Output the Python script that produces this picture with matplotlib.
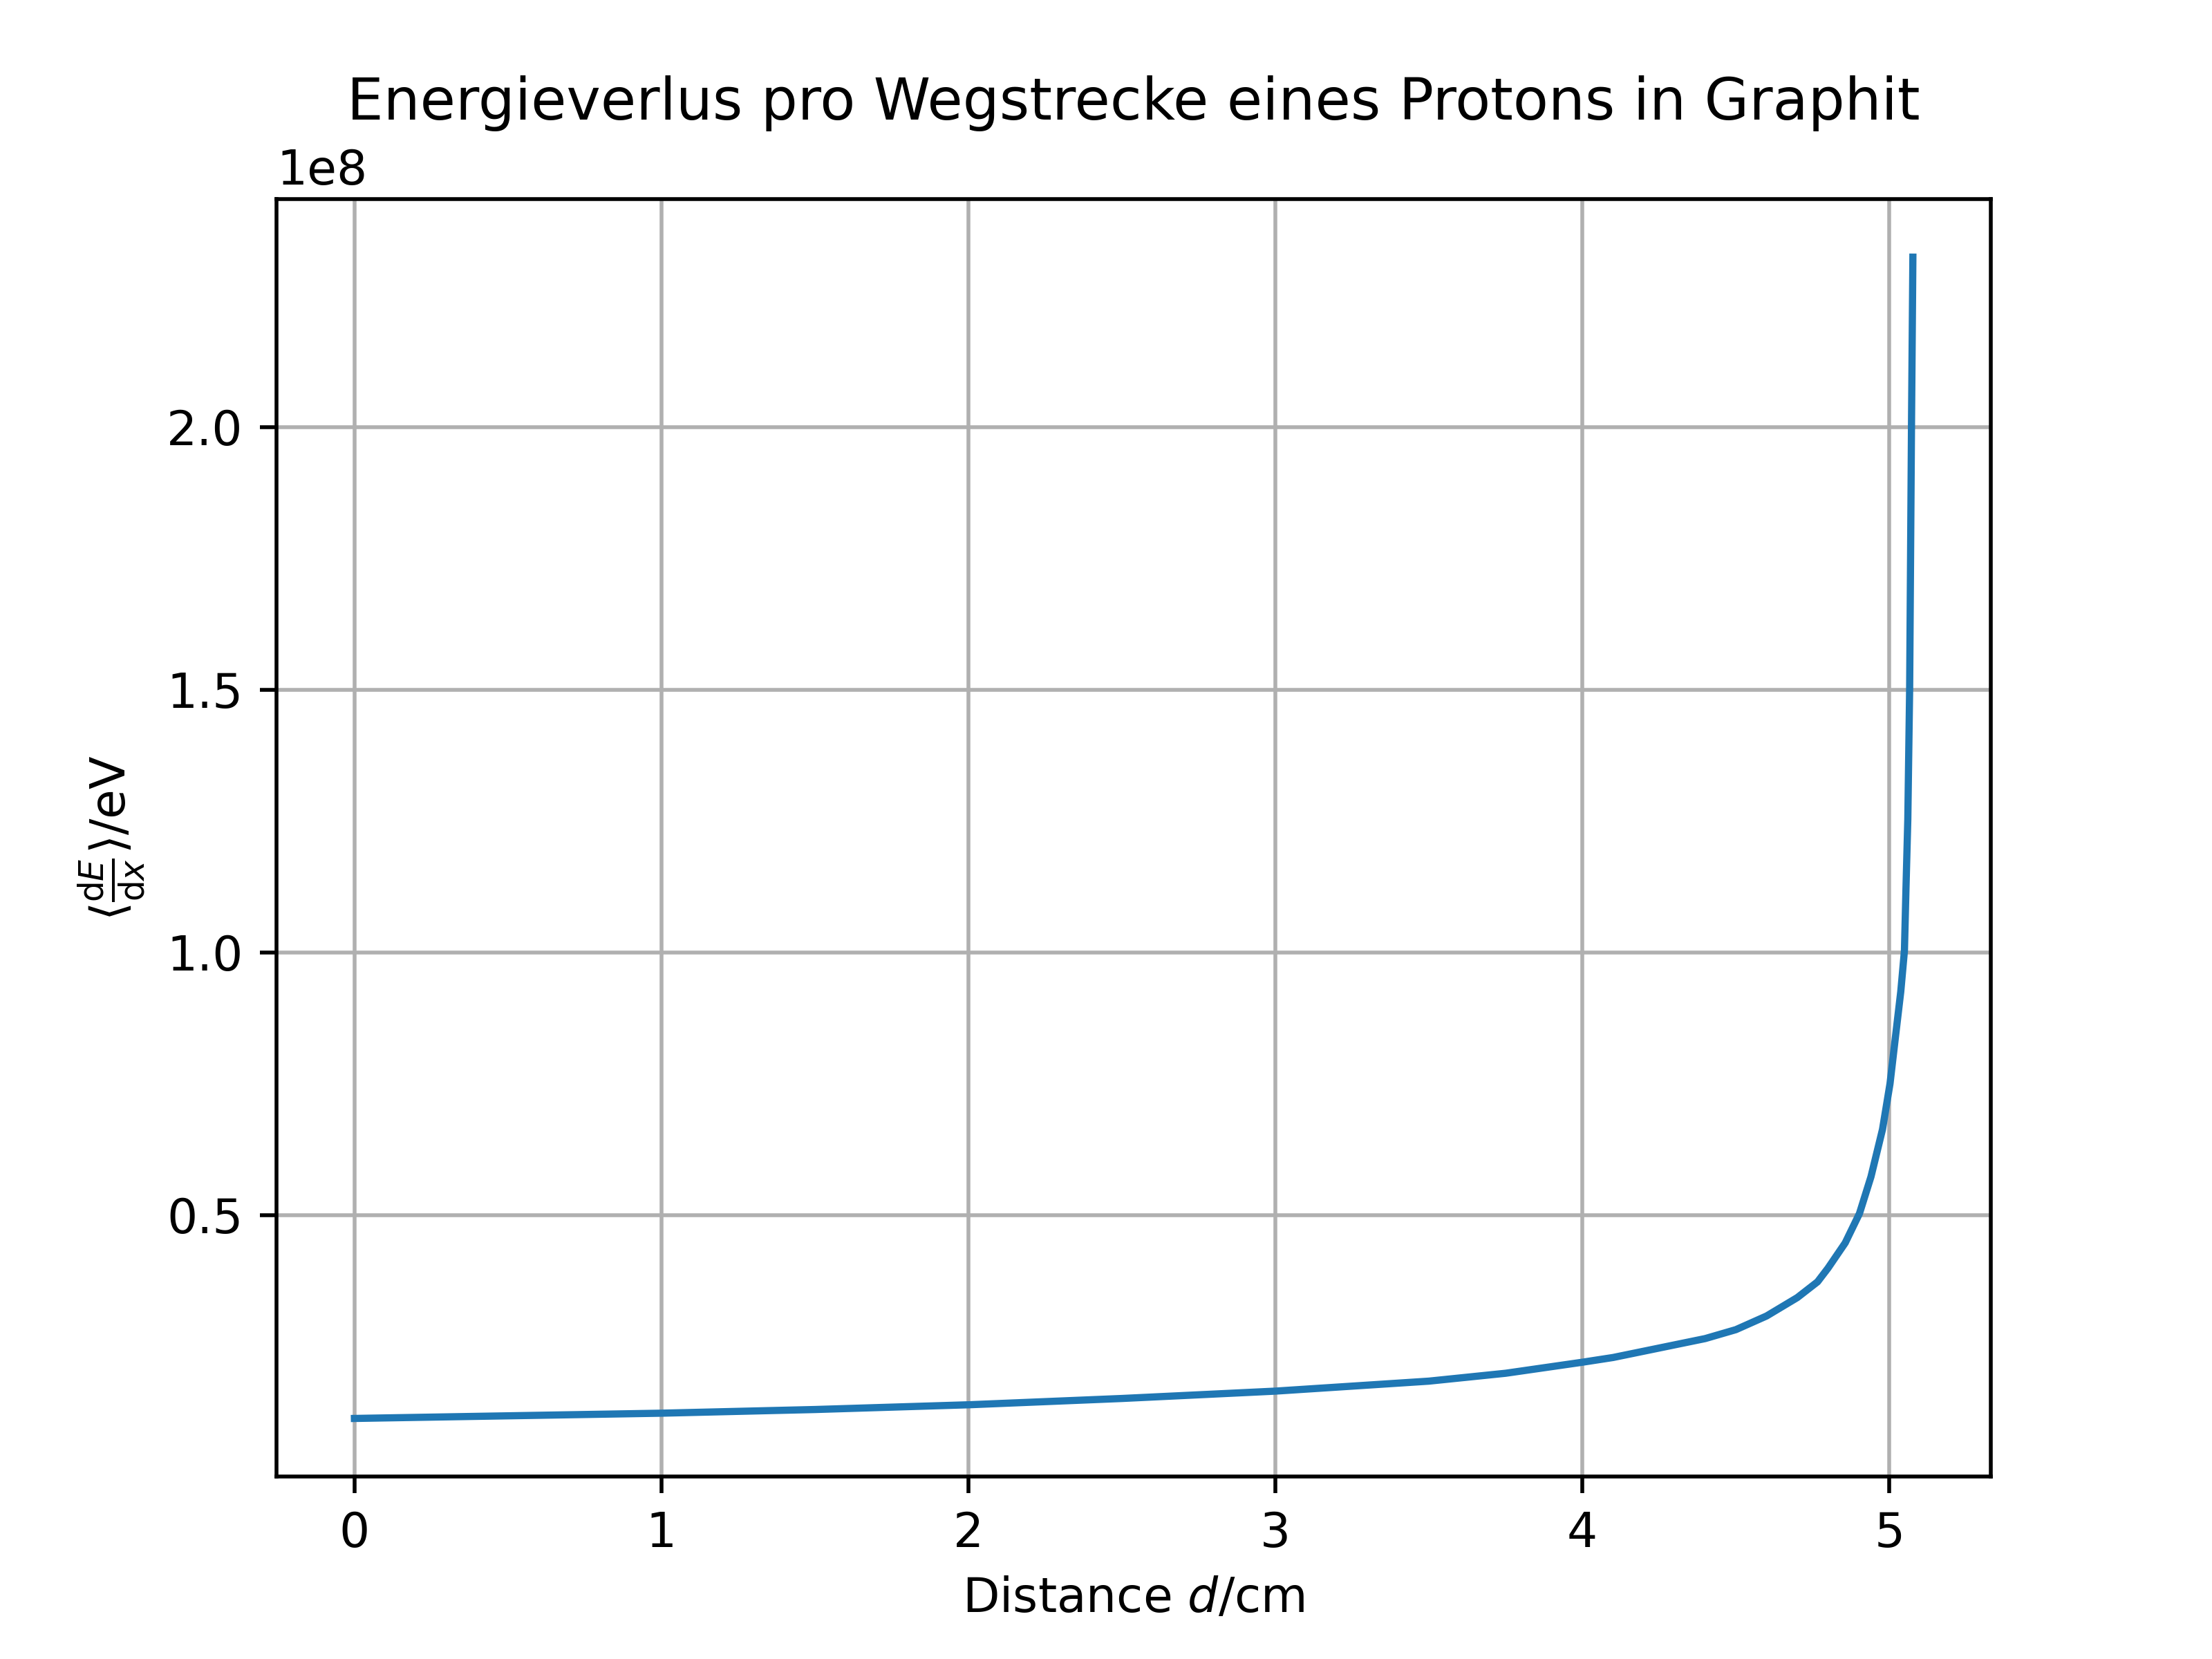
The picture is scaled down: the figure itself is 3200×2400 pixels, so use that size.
import matplotlib
matplotlib.use('Agg')
import matplotlib.pyplot as plt
import numpy as np

### values (distance in cm, mean energy loss in 1e8 eV)
distance = [0.0, 0.5, 1.0, 1.5, 2.0, 2.5, 3.0, 3.5, 3.75, 4.0, 4.1, 4.25, 4.4,
            4.5, 4.6, 4.7, 4.766, 4.8, 4.856, 4.9025, 4.94, 4.9775, 5.002,
            5.0195, 5.037, 5.049, 5.054, 5.060, 5.066, 5.069, 5.072, 5.0765]
dedx = [0.113, 0.118, 0.123, 0.130, 0.139, 0.151, 0.165, 0.184, 0.199, 0.220,
        0.229, 0.247, 0.265, 0.282, 0.308, 0.343, 0.373, 0.399, 0.447, 0.503,
        0.573, 0.663, 0.750, 0.838, 0.925, 1.003, 1.121, 1.253, 1.503, 1.753,
        2.003, 2.323]
dedx = np.array(dedx) * 1e8

fig, ax = plt.subplots(figsize=(6.4, 4.8), dpi=500)
ax.plot(distance, dedx)
ax.set_title('Energieverlus pro Wegstrecke eines Protons in Graphit')
ax.set_xlabel(r'Distance $d$/cm')
ax.set_ylabel(r'$\langle\frac{\mathrm{d}E}{\mathrm{d}x}\rangle$/eV')
ax.grid()
fig.savefig('out.png')
